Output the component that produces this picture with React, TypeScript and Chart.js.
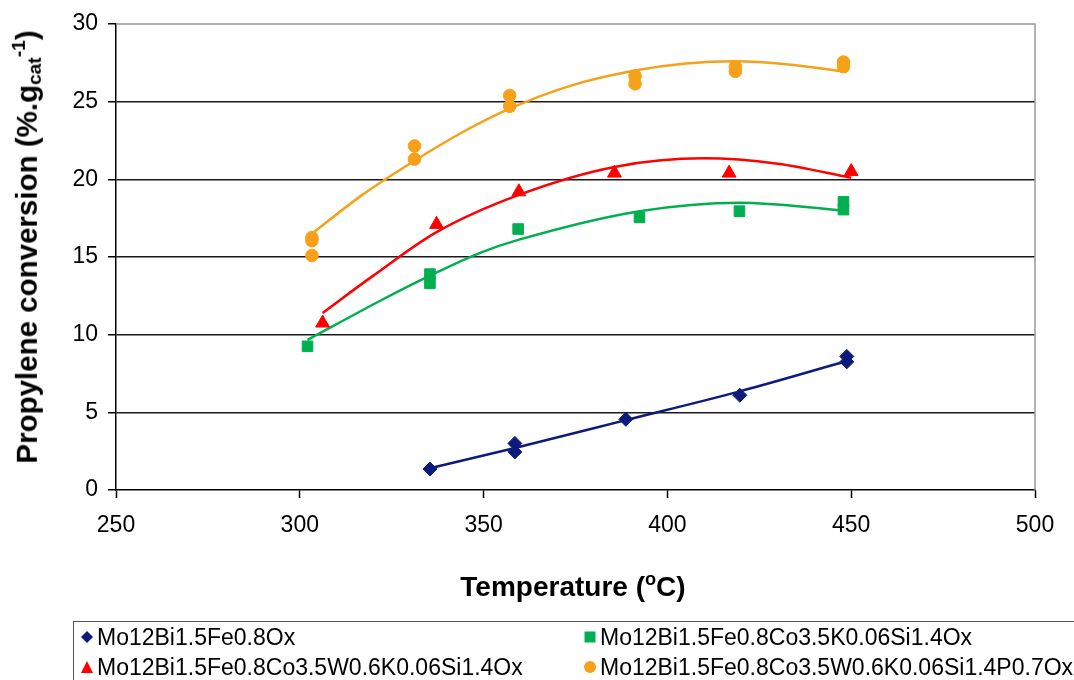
import React, { useEffect, useRef } from "react";
import { Chart, registerables } from "chart.js";
Chart.register(...registerables);

const FONT = "'Liberation Sans', Arial, sans-serif";

const xTicks = [250, 300, 350, 400, 450, 500];
const yTicks = [0, 5, 10, 15, 20, 25, 30];

const seriesNames = [
  "Mo12Bi1.5Fe0.8Ox",
  "Mo12Bi1.5Fe0.8Co3.5K0.06Si1.4Ox",
  "Mo12Bi1.5Fe0.8Co3.5W0.6K0.06Si1.4Ox",
  "Mo12Bi1.5Fe0.8Co3.5W0.6K0.06Si1.4P0.7Ox",
];
const seriesColors = ["#0d1b7c", "#00b050", "#ff0000", "#f7a01a"];

// measured points (temperature °C, conversion)
const blueT = [335.4, 358.5, 358.5, 388.7, 419.7, 448.8, 448.8];
const blueV = [1.35, 3.0, 2.45, 4.55, 6.1, 8.6, 8.25];
const greenT = [302.1, 335.4, 335.4, 359.4, 392.4, 419.6, 447.9, 447.9];
const greenV = [9.25, 13.9, 13.3, 16.8, 17.55, 17.95, 18.55, 18.05];
const redT = [306.2, 337.2, 359.6, 385.6, 416.8, 450.0];
const redV = [10.75, 17.1, 19.2, 20.4, 20.4, 20.5];
const orangeT = [303.3, 303.3, 303.3, 331.2, 331.2, 357.1, 357.1, 391.2, 391.2, 418.5, 418.5, 447.9, 447.9];
const orangeV = [16.25, 16.05, 15.1, 22.15, 21.3, 25.4, 24.7, 26.65, 26.15, 27.25, 26.95, 27.55, 27.25];

// trend curves
const blueTrendT = [335.4, 358.5, 388.7, 419.7, 448.8];
const blueTrendV = [1.4, 2.7, 4.5, 6.35, 8.3];
const greenTrendT = [302.1, 322, 335.4, 349.4, 359.4, 392.4, 419.6, 447.9];
const greenTrendV = [9.66, 12.2, 13.8, 15.3, 16.1, 17.95, 18.5, 18.0];
const redTrendT = [306.2, 320, 337.2, 359.6, 385.6, 410, 430, 450.0];
const redTrendV = [11.4, 13.8, 16.6, 19.0, 20.8, 21.35, 21.0, 20.1];
const orangeTrendT = [303.3, 317, 331.2, 344, 357.1, 374, 391.2, 405, 418.5, 433, 447.9];
const orangeTrendV = [16.5, 19.0, 21.2, 23.0, 24.55, 26.05, 27.0, 27.45, 27.6, 27.4, 26.95];

const pts = (xs: number[], ys: number[]) => xs.map((x, i) => ({ x, y: ys[i] }));

const plotBorder = {
  id: "plotBorder",
  beforeDatasetsDraw(chart: any) {
    const { ctx, chartArea } = chart;
    ctx.save();
    ctx.strokeStyle = "#9a9a9a";
    ctx.lineWidth = 1.5;
    ctx.beginPath();
    ctx.moveTo(chartArea.left, chartArea.top);
    ctx.lineTo(chartArea.right, chartArea.top);
    ctx.lineTo(chartArea.right, chartArea.bottom);
    ctx.stroke();
    ctx.restore();
  },
};

function LegendMarker({ kind, color }: { kind: string; color: string }) {
  let shape: any = null;
  if (kind === "diamond") shape = <polygon points="7,1 13,7 7,13 1,7" fill={color} />;
  if (kind === "square") shape = <rect x="1.5" y="1.5" width="11" height="11" fill={color} />;
  if (kind === "triangle") shape = <polygon points="7,1 13,13 1,13" fill={color} />;
  if (kind === "circle") shape = <circle cx="7" cy="7" r="6" fill={color} />;
  return (
    <svg width="14" height="14" style={{ display: "block" }}>
      {shape}
    </svg>
  );
}

export default function App() {
  const ref = useRef<HTMLCanvasElement | null>(null);

  useEffect(() => {
    if (!ref.current) return;
    const trend = (xs: number[], ys: number[], color: string) => ({
      type: "line" as const,
      data: pts(xs, ys),
      borderColor: color,
      backgroundColor: color,
      borderWidth: 2.5,
      pointRadius: 0,
      showLine: true,
      cubicInterpolationMode: "monotone" as const,
      fill: false,
      order: 2,
    });
    const marks = (xs: number[], ys: number[], color: string, style: string, r: number, label: string) => ({
      type: "scatter" as const,
      label,
      data: pts(xs, ys),
      pointStyle: style,
      pointRadius: r,
      backgroundColor: color,
      borderColor: color,
      borderWidth: 1,
      showLine: false,
      order: 1,
    });

    const chart = new Chart(ref.current, {
      type: "scatter",
      data: {
        datasets: [
          trend(blueTrendT, blueTrendV, seriesColors[0]),
          trend(greenTrendT, greenTrendV, seriesColors[1]),
          trend(redTrendT, redTrendV, seriesColors[2]),
          trend(orangeTrendT, orangeTrendV, seriesColors[3]),
          marks(blueT, blueV, seriesColors[0], "rectRot", 7, seriesNames[0]),
          marks(greenT, greenV, seriesColors[1], "rect", 7.5, seriesNames[1]),
          marks(redT, redV, seriesColors[2], "triangle", 8, seriesNames[2]),
          marks(orangeT, orangeV, seriesColors[3], "circle", 6.3, seriesNames[3]),
        ] as any,
      },
      options: {
        animation: false,
        responsive: false,
        maintainAspectRatio: false,
        layout: { padding: { left: 0, top: 24, right: 39, bottom: 130 } },
        plugins: { legend: { display: false }, tooltip: { enabled: false } },
        scales: {
          x: {
            type: "linear",
            min: 250,
            max: 500,
            afterBuildTicks: (s: any) => {
              s.ticks = xTicks.map((v) => ({ value: v }));
            },
            afterFit: (s: any) => {
              s.height = 60;
            },
            ticks: { font: { family: FONT, size: 23 }, color: "#000", padding: 14 },
            grid: { drawOnChartArea: false, drawTicks: true, tickLength: 8, tickColor: "#000", tickWidth: 1.5 },
            border: { color: "#000", width: 1.5 },
          },
          y: {
            type: "linear",
            min: 0,
            max: 30,
            afterBuildTicks: (s: any) => {
              s.ticks = yTicks.map((v) => ({ value: v }));
            },
            afterFit: (s: any) => {
              s.width = 116;
            },
            ticks: { font: { family: FONT, size: 23 }, color: "#000", padding: 10 },
            grid: {
              color: (c: any) => (c.tick && (c.tick.value === 30 || c.tick.value === 0) ? "rgba(0,0,0,0)" : "#1a1a1a"),
              lineWidth: 1.5,
              drawTicks: true,
              tickLength: 8,
              tickColor: "#000",
              tickWidth: 1.5,
            },
            border: { color: "#000", width: 1.5 },
          },
        },
      },
      plugins: [plotBorder],
    } as any);
    return () => chart.destroy();
  }, []);

  const legendItems = [
    { kind: "diamond", col: 0, row: 0 },
    { kind: "square", col: 1, row: 0 },
    { kind: "triangle", col: 0, row: 1 },
    { kind: "circle", col: 1, row: 1 },
  ];

  return (
    <div
      style={{
        position: "absolute",
        left: 0,
        top: 0,
        width: 1074,
        height: 680,
        overflow: "hidden",
        background: "#fff",
        fontFamily: FONT,
      }}
    >
      <canvas ref={ref} width={1074} height={680} style={{ display: "block", width: 1074, height: 680 }} />
      <div
        style={{
          position: "absolute",
          left: 27,
          top: 247,
          transform: "translate(-50%, -50%) rotate(-90deg)",
          whiteSpace: "nowrap",
          fontWeight: "bold",
          fontSize: 29.5,
          color: "#000",
        }}
      >
        Propylene conversion (%.g
        <span style={{ fontSize: "0.65em", verticalAlign: "-0.25em" }}>cat</span>
        <span style={{ fontSize: "0.65em", verticalAlign: "0.6em" }}>-1</span>)
      </div>
      <div
        style={{
          position: "absolute",
          left: 573,
          top: 586,
          transform: "translate(-50%, -50%)",
          whiteSpace: "nowrap",
          fontWeight: "bold",
          fontSize: 28,
          color: "#000",
        }}
      >
        Temperature (<span style={{ fontSize: "0.65em", verticalAlign: "0.6em" }}>o</span>C)
      </div>
      <div
        style={{
          position: "absolute",
          left: 73,
          top: 621,
          width: 1010,
          height: 80,
          border: "1.5px solid #555",
          boxSizing: "border-box",
        }}
      >
        {legendItems.map((it, i) => (
          <div
            key={i}
            style={{
              position: "absolute",
              left: it.col === 0 ? 6 : 509,
              top: it.row === 0 ? 1 : 31,
              height: 28,
              display: "flex",
              alignItems: "center",
              whiteSpace: "nowrap",
              fontSize: 23,
              color: "#000",
            }}
          >
            <LegendMarker kind={it.kind} color={seriesColors[i]} />
            <span style={{ marginLeft: 3 }}>{seriesNames[i]}</span>
          </div>
        ))}
      </div>
    </div>
  );
}
